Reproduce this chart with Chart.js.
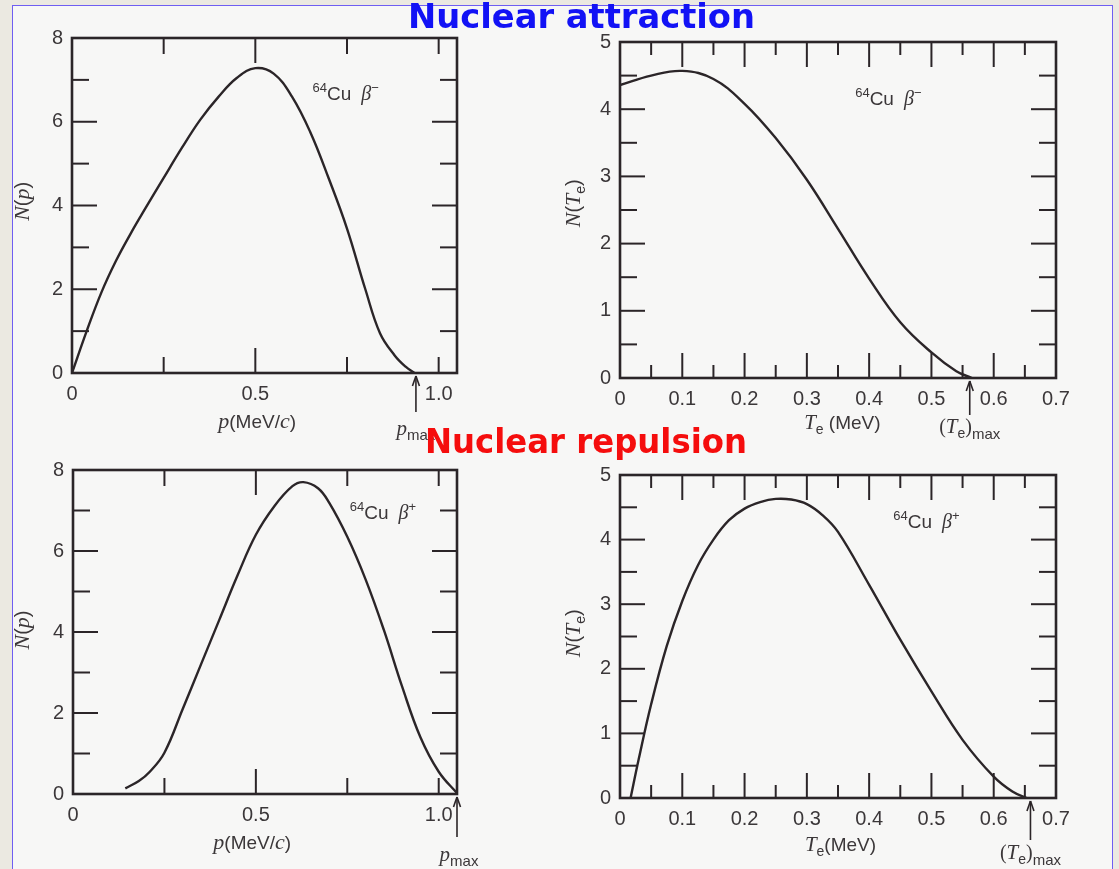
<!DOCTYPE html>
<html>
<head>
<meta charset="utf-8">
<script src="https://cdn.jsdelivr.net/npm/chart.js@4.4.0/dist/chart.umd.min.js"></script>
<style>
  body { margin: 0; width: 1119px; height: 869px; overflow: hidden; background: #ebe9e1; position: relative; }
  #page { position: absolute; left: 12px; top: 5px; width: 1099px; height: 900px; border: 1.5px solid #6f5ef2; background: #f7f7f6; }
  canvas { position: absolute; }
</style>
</head>
<body>
<div id="page"></div>
<canvas id="tl" width="560" height="440" style="left:0;top:0"></canvas>
<canvas id="tr" width="560" height="440" style="left:560px;top:0"></canvas>
<canvas id="bl" width="560" height="440" style="left:0;top:430px"></canvas>
<canvas id="br" width="560" height="440" style="left:560px;top:430px"></canvas>
<canvas id="titles" width="1119" height="869" style="left:0;top:0"></canvas>
<script>
// 64Cu beta- momentum spectrum
const pMinus = [0, 0.04, 0.08, 0.12, 0.16, 0.20, 0.25, 0.30, 0.35, 0.40, 0.45, 0.50, 0.55, 0.60, 0.65, 0.70, 0.75, 0.80, 0.84, 0.88, 0.91, 0.934];
const nMinusP = [0, 1.0, 1.92, 2.68, 3.33, 3.93, 4.66, 5.38, 6.05, 6.6, 7.05, 7.28, 7.15, 6.6, 5.75, 4.65, 3.45, 2.0, 0.95, 0.42, 0.15, 0];

// 64Cu beta- kinetic energy spectrum
const tMinus = [0, 0.05, 0.10, 0.15, 0.20, 0.25, 0.30, 0.35, 0.40, 0.45, 0.50, 0.54, 0.565];
const nMinusT = [4.36, 4.5, 4.57, 4.45, 4.08, 3.57, 2.95, 2.22, 1.48, 0.83, 0.38, 0.1, 0];

// 64Cu beta+ momentum spectrum
const pPlus = [0.143, 0.18, 0.21, 0.25, 0.30, 0.35, 0.40, 0.45, 0.50, 0.55, 0.60, 0.63, 0.67, 0.70, 0.75, 0.80, 0.85, 0.90, 0.95, 1.00, 1.052];
const nPlusP = [0.14, 0.32, 0.55, 1.02, 2.1, 3.2, 4.3, 5.4, 6.4, 7.1, 7.6, 7.7, 7.55, 7.2, 6.35, 5.3, 4.05, 2.65, 1.4, 0.55, 0];

// 64Cu beta+ kinetic energy spectrum
const tPlus = [0.017, 0.03, 0.05, 0.075, 0.10, 0.125, 0.15, 0.175, 0.20, 0.225, 0.25, 0.275, 0.30, 0.325, 0.35, 0.40, 0.45, 0.50, 0.55, 0.60, 0.63, 0.653];
const nPlusT = [0, 0.6, 1.45, 2.35, 3.05, 3.6, 4.0, 4.3, 4.48, 4.58, 4.63, 4.62, 4.55, 4.38, 4.12, 3.3, 2.45, 1.65, 0.9, 0.33, 0.1, 0];

const pTickLabels = ['0', '0.5', '1.0'];
const tTickLabels = ['0', '0.1', '0.2', '0.3', '0.4', '0.5', '0.6', '0.7'];
const npTickLabels = ['0', '2', '4', '6', '8'];
const ntTickLabels = ['0', '1', '2', '3', '4', '5'];

const pMaxMinus = 0.938, pMaxPlus = 1.05;
const tMaxMinus = 0.5615, tMaxPlus = 0.659;

const ink = '#2b2528';
const textInk = '#3b3739';
const SANS = '"Liberation Sans", Arial, sans-serif';
const SERIF = '"Liberation Serif", "Times New Roman", serif';

function near(a, b) { return Math.abs(a - b) < 1e-6; }
function pickLabel(list) {
    return v => list.find(s => near(parseFloat(s), v)) || '';
}

function fontOf(p) {
    return (p.it ? 'italic ' : '') + (p.size || 19) + 'px ' + (p.serif ? SERIF : SANS);
}

function rich(ctx, parts, x, y, align) {
    let w = 0;
    parts.forEach(p => { ctx.font = fontOf(p); w += ctx.measureText(p.t).width + (p.gap || 0); });
    let cx = align === 'center' ? x - w / 2 : x;
    ctx.textAlign = 'left';
    ctx.textBaseline = 'alphabetic';
    parts.forEach(p => {
        ctx.font = fontOf(p);
        ctx.fillText(p.t, cx, y + (p.dy || 0));
        cx += ctx.measureText(p.t).width + (p.gap || 0);
    });
}

function seg(ctx, x1, y1, x2, y2) {
    ctx.beginPath();
    ctx.moveTo(x1, y1);
    ctx.lineTo(x2, y2);
    ctx.stroke();
}

const nP = [{t: 'N', it: 1, serif: 1, size: 22}, {t: '(', size: 20}, {t: 'p', it: 1, serif: 1, size: 22}, {t: ')', size: 20}];
const nT = [{t: 'N', it: 1, serif: 1, size: 22}, {t: '(', size: 20}, {t: 'T', it: 1, serif: 1, size: 22}, {t: 'e', size: 14, dy: 5}, {t: ')', size: 20}];
const pAxis = [{t: 'p', it: 1, serif: 1, size: 22}, {t: '(MeV/', size: 19}, {t: 'c', it: 1, serif: 1, size: 22}, {t: ')', size: 19}];
const pMaxTxt = [{t: 'p', it: 1, serif: 1, size: 21}, {t: 'max', size: 15, dy: 5}];
const tMaxTxt = [{t: '(', serif: 1, size: 20}, {t: 'T', it: 1, serif: 1, size: 21}, {t: 'e', size: 14, dy: 5}, {t: ')', serif: 1, size: 20}, {t: 'max', size: 15, dy: 6}];
const cuMinus = [{t: '64', size: 13, dy: -8}, {t: 'Cu', size: 19, gap: 10}, {t: 'β', it: 1, serif: 1, size: 20}, {t: '−', size: 13, dy: -8}];
const cuPlus = [{t: '64', size: 13, dy: -8}, {t: 'Cu', size: 19, gap: 10}, {t: 'β', it: 1, serif: 1, size: 20}, {t: '+', size: 13, dy: -8}];

function decor(cfg) {
    return {
        id: 'decor',
        afterDatasetsDraw(chart) {
            const {ctx, chartArea: a} = chart;
            const x = chart.scales.x, y = chart.scales.y;
            ctx.save();
            ctx.strokeStyle = ink;
            ctx.lineWidth = 2;
            x.ticks.forEach(t => {
                if (t.value <= x.min + 1e-9 || t.value >= x.max - 1e-9) return;
                const px = x.getPixelForValue(t.value);
                const len = cfg.xLen(t.value);
                seg(ctx, px, a.bottom, px, a.bottom - len);
                seg(ctx, px, a.top, px, a.top + len);
            });
            y.ticks.forEach(t => {
                if (t.value <= y.min + 1e-9 || t.value >= y.max - 1e-9) return;
                const py = y.getPixelForValue(t.value);
                const len = cfg.yLen(t.value);
                seg(ctx, a.left, py, a.left + len, py);
                seg(ctx, a.right, py, a.right - len, py);
            });
            ctx.lineWidth = 2.6;
            ctx.strokeRect(a.left, a.top, a.right - a.left, a.bottom - a.top);

            // end-point arrow
            const ax = x.getPixelForValue(cfg.arrowAt);
            ctx.lineWidth = 1.6;
            seg(ctx, ax, a.bottom + cfg.arrowLen, ax, a.bottom + 3);
            seg(ctx, ax - 3.5, a.bottom + 13, ax, a.bottom + 3);
            seg(ctx, ax + 3.5, a.bottom + 13, ax, a.bottom + 3);

            ctx.fillStyle = textInk;
            rich(ctx, cfg.maxTxt, ax + (cfg.maxDx || 0), a.bottom + cfg.maxDy, 'center');
            rich(ctx, cfg.xTitle, x.getPixelForValue(cfg.xTitleAt), a.bottom + cfg.xTitleDy, 'center');
            rich(ctx, cfg.note, x.getPixelForValue(cfg.noteAt[0]), y.getPixelForValue(cfg.noteAt[1]), 'left');

            ctx.translate(a.left + cfg.yTitleDx, y.getPixelForValue(cfg.yTitleAt));
            ctx.rotate(-Math.PI / 2);
            rich(ctx, cfg.yTitle, 0, 0, 'center');
            ctx.restore();
        }
    };
}

function panel(id, xs, ys, cfg) {
    const pts = xs.map((v, i) => ({x: v, y: ys[i]}));
    return new Chart(document.getElementById(id).getContext('2d'), {
        type: 'line',
        data: {
            datasets: [{
                data: pts,
                borderColor: ink,
                borderWidth: 2.4,
                pointRadius: 0,
                fill: false,
                tension: 0.4
            }]
        },
        options: {
            responsive: false,
            animation: false,
            devicePixelRatio: 1,
            layout: {padding: cfg.pad},
            plugins: {legend: {display: false}, tooltip: {enabled: false}},
            scales: {
                x: {
                    type: 'linear', min: 0, max: cfg.xMax,
                    afterFit: s => { s.height = 40; },
                    grid: {display: false, drawTicks: false},
                    border: {display: false},
                    ticks: {
                        stepSize: cfg.xStep, includeBounds: false, autoSkip: false, maxTicksLimit: 100,
                        maxRotation: 0, padding: 9, color: textInk,
                        font: {family: SANS, size: 20},
                        callback: pickLabel(cfg.xLabels)
                    }
                },
                y: {
                    type: 'linear', min: 0, max: cfg.yMax,
                    afterFit: s => { s.width = cfg.yw; },
                    grid: {display: false, drawTicks: false},
                    border: {display: false},
                    ticks: {
                        stepSize: cfg.yStep, includeBounds: false, autoSkip: false, maxTicksLimit: 100,
                        padding: 9, color: textInk,
                        font: {family: SANS, size: 20},
                        callback: pickLabel(cfg.yLabels)
                    }
                }
            }
        },
        plugins: [decor(cfg)]
    });
}

const pLen = v => near(v, 0.5) ? 25 : 16;
const tLen = v => near(v * 10, Math.round(v * 10)) ? 25 : 13;
const nLen = v => near(v % 2, 0) ? 25 : 17;
const hLen = v => near(v, Math.round(v)) ? 25 : 17;

panel('tl', pMinus, nMinusP, {
    pad: {left: 22, right: 103, top: 38, bottom: 27}, yw: 50,
    xMax: 1.05, xStep: 0.25, xLabels: pTickLabels, yMax: 8, yStep: 1, yLabels: npTickLabels,
    xLen: pLen, yLen: nLen,
    arrowAt: pMaxMinus, arrowLen: 39, maxTxt: pMaxTxt, maxDy: 62,
    xTitle: pAxis, xTitleAt: 0.505, xTitleDy: 55,
    yTitle: nP, yTitleAt: 4.1, yTitleDx: -43,
    note: cuMinus, noteAt: [0.656, 6.52]
});

panel('tr', tMinus, nMinusT, {
    pad: {left: 15, right: 64, top: 42, bottom: 22}, yw: 45,
    xMax: 0.7, xStep: 0.05, xLabels: tTickLabels, yMax: 5, yStep: 0.5, yLabels: ntTickLabels,
    xLen: tLen, yLen: hLen,
    arrowAt: tMaxMinus, arrowLen: 37, maxTxt: tMaxTxt, maxDy: 55,
    xTitle: [{t: 'T', it: 1, serif: 1, size: 21}, {t: 'e', size: 14, dy: 5}, {t: ' (MeV)', size: 19}],
    xTitleAt: 0.357, xTitleDy: 51,
    yTitle: nT, yTitleAt: 2.6, yTitleDx: -40,
    note: cuMinus, noteAt: [0.3776, 4.06]
});

panel('bl', pPlus, nPlusP, {
    pad: {left: 23, right: 103, top: 40, bottom: 36}, yw: 50,
    xMax: 1.05, xStep: 0.25, xLabels: pTickLabels, yMax: 8, yStep: 1, yLabels: npTickLabels,
    xLen: pLen, yLen: nLen,
    arrowAt: pMaxPlus, arrowLen: 43, maxTxt: pMaxTxt, maxDy: 67, maxDx: 2,
    xTitle: pAxis, xTitleAt: 0.49, xTitleDy: 55,
    yTitle: nP, yTitleAt: 4.05, yTitleDx: -44,
    note: cuPlus, noteAt: [0.757, 6.79]
});

panel('br', tPlus, nPlusT, {
    pad: {left: 15, right: 64, top: 45, bottom: 32}, yw: 45,
    xMax: 0.7, xStep: 0.05, xLabels: tTickLabels, yMax: 5, yStep: 0.5, yLabels: ntTickLabels,
    xLen: tLen, yLen: hLen,
    arrowAt: tMaxPlus, arrowLen: 42, maxTxt: tMaxTxt, maxDy: 61,
    xTitle: [{t: 'T', it: 1, serif: 1, size: 21}, {t: 'e', size: 14, dy: 5}, {t: '(MeV)', size: 19}],
    xTitleAt: 0.354, xTitleDy: 53,
    yTitle: nT, yTitleAt: 2.55, yTitleDx: -40,
    note: cuPlus, noteAt: [0.4387, 4.18]
});

// slide headings on top of the scanned figure
function heading(ctx, text, color, left, right, baseline) {
    ctx.save();
    ctx.font = 'bold 34px "DejaVu Sans", sans-serif';
    const w = ctx.measureText(text).width;
    ctx.translate(left, baseline);
    ctx.scale((right - left) / w, 1);
    ctx.fillStyle = color;
    ctx.textBaseline = 'alphabetic';
    ctx.fillText(text, 0, 0);
    ctx.restore();
}
const hctx = document.getElementById('titles').getContext('2d');
heading(hctx, 'Nuclear attraction', '#1212f5', 408, 755, 28);
heading(hctx, 'Nuclear repulsion', '#f50d0d', 425, 747, 453);
</script>
</body>
</html>
